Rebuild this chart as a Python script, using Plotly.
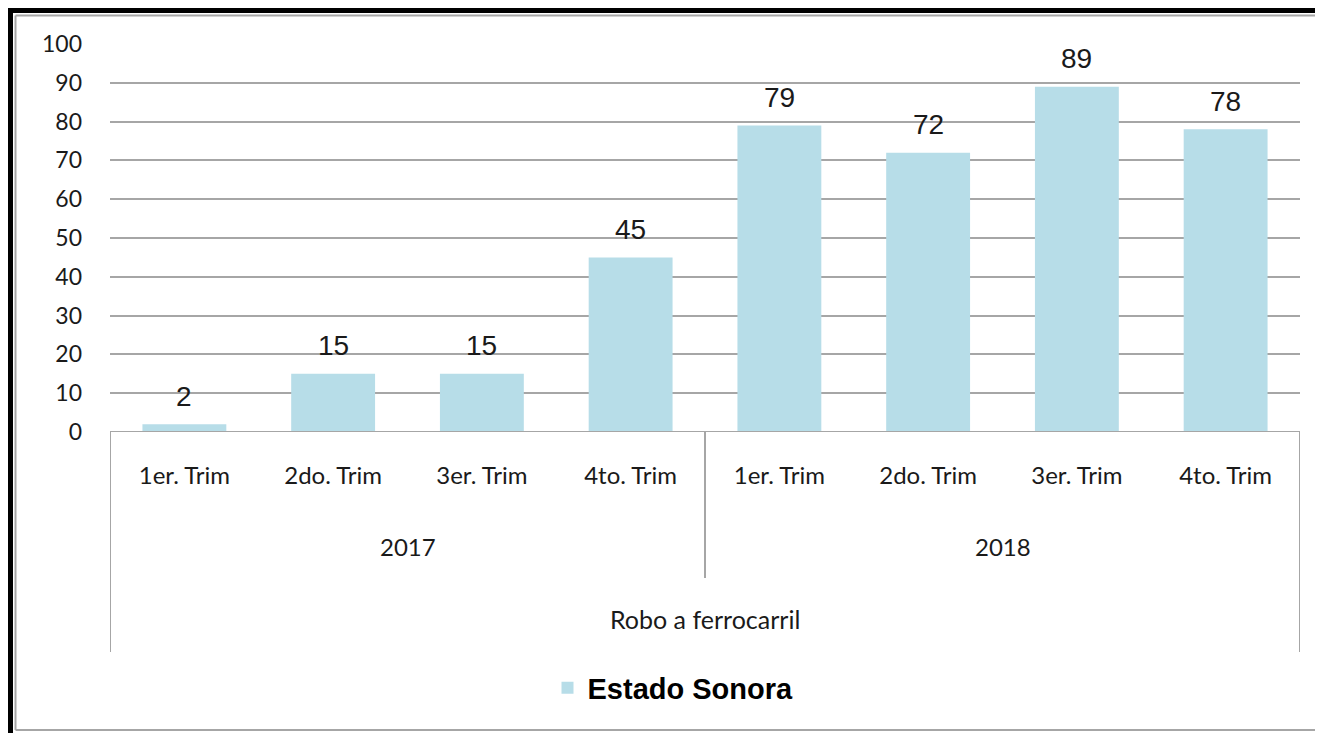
import plotly.graph_objects as go

trimestres = ["1er. Trim", "2do. Trim", "3er. Trim", "4to. Trim",
              "1er. Trim", "2do. Trim", "3er. Trim", "4to. Trim"]
anios = ["2017", "2018"]
grupo = "Robo a ferrocarril"
serie_nombre = "Estado Sonora"
valores = [2, 15, 15, 45, 79, 72, 89, 78]
y_ticks = [0, 10, 20, 30, 40, 50, 60, 70, 80, 90, 100]

# page is rendered with an 8px body margin: work in page pixels, convert to figure
OFF = 8
FW, FH = 1323, 733
L, R, T, B = 110 - OFF, 1300 - OFF, 44 - OFF, 432 - OFF
W, H = R - L, B - T
def px(xp):
    return (xp - OFF - L) / W
def py(yp):
    return (B - (yp - OFF)) / H

GRAY = "#a6a6a6"
TXT = "#1a1a1a"
n = len(valores)
xs = list(range(n))

fig = go.Figure()
fig.add_trace(go.Bar(
    x=xs, y=valores, name=serie_nombre,
    marker=dict(color="#b7dde8", line=dict(width=0)),
    showlegend=True,
))

annotations = []
for x, v in zip(xs, valores):
    annotations.append(dict(x=x, y=v, xref="x", yref="y", text=str(v),
                            showarrow=False, yanchor="middle", yshift=28,
                            font=dict(family="Liberation Sans, Arial", size=28, color=TXT)))

per_year = n // len(anios)
for i, a in enumerate(anios):
    xc = i * per_year + (per_year - 1) / 2
    annotations.append(dict(x=xc, y=0, xref="x", yref="paper", text=a,
                            showarrow=False, yanchor="middle", yshift=-114,
                            font=dict(family="Lato", size=24, color=TXT)))
annotations.append(dict(x=(n - 1) / 2, y=0, xref="x", yref="paper", text=grupo,
                        showarrow=False, yanchor="middle", yshift=-187,
                        font=dict(family="Lato", size=25, color=TXT)))

shapes = []
# category separators
for k in range(len(anios) + 1):
    xb = k * per_year - 0.5
    depth = -220 if k in (0, len(anios)) else -146
    shapes.append(dict(type="line", xref="x", yref="paper", x0=xb, x1=xb,
                       ysizemode="pixel", yanchor=0, y0=0, y1=depth,
                       line=dict(color=GRAY, width=2)))
# axis line
shapes.append(dict(type="line", xref="x", yref="y", x0=-0.5, x1=n - 0.5, y0=0, y1=0,
                   line=dict(color=GRAY, width=2)))
# frame: black outer top/left, gray inner
shapes.append(dict(type="line", xref="paper", yref="paper", x0=px(7), x1=px(1345),
                   y0=py(10), y1=py(10), line=dict(color="black", width=6)))
shapes.append(dict(type="line", xref="paper", yref="paper", x0=px(10), x1=px(10),
                   y0=py(7), y1=py(745), line=dict(color="black", width=6)))
shapes.append(dict(type="line", xref="paper", yref="paper", x0=px(15.5), x1=px(1345),
                   y0=py(15.5), y1=py(15.5), line=dict(color=GRAY, width=2)))
shapes.append(dict(type="line", xref="paper", yref="paper", x0=px(15.5), x1=px(15.5),
                   y0=py(15.5), y1=py(730), line=dict(color=GRAY, width=2)))
shapes.append(dict(type="line", xref="paper", yref="paper", x0=px(15.5), x1=px(1345),
                   y0=py(730), y1=py(730), line=dict(color=GRAY, width=2)))

fig.update_layout(
    width=FW, height=FH,
    margin=dict(l=L, r=FW - R, t=T, b=FH - B, pad=0),
    paper_bgcolor="white", plot_bgcolor="white",
    bargap=0.436,
    xaxis=dict(range=[-0.5, n - 0.5], tickvals=xs, ticktext=trimestres,
               showgrid=False, zeroline=False, showline=False, ticks="",
               ticklabelstandoff=27,
               tickfont=dict(family="Lato", size=24, color=TXT)),
    yaxis=dict(range=[0, 100], tickvals=y_ticks, showgrid=True, gridcolor=GRAY,
               gridwidth=2, zeroline=False, showline=False, ticks="",
               ticklabelstandoff=27,
               tickfont=dict(family="Lato", size=23, color=TXT)),
    legend=dict(orientation="h", x=px(673), xanchor="center", y=py(688),
                yanchor="middle", font=dict(family="Liberation Sans, Arial", size=29,
                                            color="black", weight="bold"),
                itemclick=False),
    annotations=annotations,
    shapes=shapes,
)

fig.write_html("out.html")
